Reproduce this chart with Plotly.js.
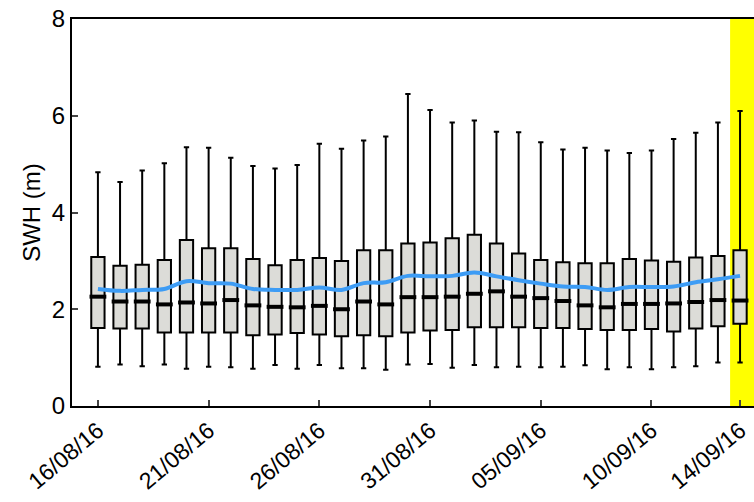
<!DOCTYPE html>
<html>
<head>
<meta charset="utf-8">
<script src="https://cdn.plot.ly/plotly-3.0.1.min.js"></script>
<style>body{margin:0;background:#fff}#plot{width:754px;height:502px}</style>
</head>
<body>
<div id="plot"></div>
<script>
// one box per day, 16/08/16 .. 14/09/16
const days = [0,1,2,3,4,5,6,7,8,9,10,11,12,13,14,15,16,17,18,19,20,21,22,23,24,25,26,27,28,29];
const swhMax = [4.83,4.63,4.87,5.02,5.35,5.34,5.13,4.96,4.91,4.98,5.42,5.32,5.49,5.57,6.45,6.12,5.86,5.90,5.67,5.66,5.45,5.30,5.34,5.28,5.23,5.28,5.52,5.65,5.86,6.10];
const swhQ3 = [3.08,2.90,2.92,3.02,3.43,3.26,3.26,3.04,2.91,3.02,3.06,3.00,3.22,3.22,3.36,3.38,3.47,3.54,3.36,3.15,3.02,2.97,2.95,2.95,3.04,3.01,2.98,3.07,3.10,3.22];
const swhMed = [2.26,2.16,2.16,2.10,2.14,2.12,2.19,2.08,2.05,2.04,2.07,2.00,2.16,2.10,2.25,2.25,2.26,2.32,2.37,2.26,2.23,2.17,2.08,2.04,2.11,2.11,2.12,2.15,2.19,2.18];
const swhQ1 = [1.61,1.60,1.60,1.52,1.52,1.52,1.52,1.46,1.48,1.51,1.48,1.44,1.46,1.44,1.52,1.56,1.57,1.63,1.63,1.63,1.61,1.61,1.59,1.57,1.57,1.59,1.54,1.60,1.65,1.70];
const swhMin = [0.81,0.86,0.82,0.86,0.77,0.81,0.80,0.77,0.85,0.77,0.85,0.78,0.78,0.75,0.86,0.87,0.79,0.85,0.80,0.81,0.80,0.81,0.84,0.76,0.80,0.76,0.80,0.82,0.90,0.90];
const swhMean = [2.42,2.38,2.40,2.42,2.58,2.54,2.53,2.42,2.40,2.40,2.45,2.40,2.54,2.56,2.69,2.68,2.69,2.76,2.68,2.60,2.53,2.47,2.46,2.40,2.46,2.46,2.47,2.56,2.62,2.69];
const tickPos = [0,5,10,15,20,25,29];
const tickLabels = ["16/08/16","21/08/16","26/08/16","31/08/16","05/09/16","10/09/16","14/09/16"];

const boxes = {
    type: "box",
    x: days,
    q1: swhQ1, median: swhMed, q3: swhQ3,
    lowerfence: swhMin, upperfence: swhMax,
    width: 0.6,
    whiskerwidth: 0.4,
    fillcolor: "#dcdcd8",
    line: { color: "black", width: 2 },
    hoverinfo: "skip"
};

// thicker median bars drawn on top of the boxes
const medians = {
    type: "scatter",
    mode: "markers",
    x: days,
    y: swhMed,
    marker: { symbol: "line-ew", size: 12, line: { color: "black", width: 4 } }
};

const meanLine = {
    type: "scatter",
    mode: "lines",
    x: days,
    y: swhMean,
    line: { color: "#3d9cf5", width: 4, shape: "spline" }
};

const font = { family: "Liberation Sans, Arial, sans-serif", color: "black" };

const layout = {
    width: 754, height: 502,
    margin: { l: 72, r: 0, t: 19, b: 96 },
    showlegend: false,
    font: font,
    plot_bgcolor: "white",
    shapes: [{
        type: "rect", xref: "x", yref: "paper",
        x0: 28.55, x1: 30, y0: 0, y1: 1,
        fillcolor: "#ffff00", line: { width: 0 }, layer: "below"
    }],
    xaxis: {
        range: [-1.17, 29.63],
        tickvals: tickPos, ticktext: tickLabels,
        tickangle: -40, tickfont: { size: 23 },
        ticks: "inside", ticklen: 6, tickwidth: 2,
        showline: true, linewidth: 2, linecolor: "black", mirror: true,
        showgrid: false, zeroline: false
    },
    yaxis: {
        range: [0, 8],
        tickvals: [0,2,4,6,8],
        tickfont: { size: 24 },
        ticks: "inside", ticklen: 6, tickwidth: 2,
        showline: true, linewidth: 2, linecolor: "black",
        showgrid: false, zeroline: false,
        title: { text: "SWH (m)", font: { size: 24 }, standoff: 4 }
    }
};

Plotly.newPlot("plot", [boxes, medians, meanLine], layout, { displayModeBar: false, staticPlot: true });
</script>
</body>
</html>
